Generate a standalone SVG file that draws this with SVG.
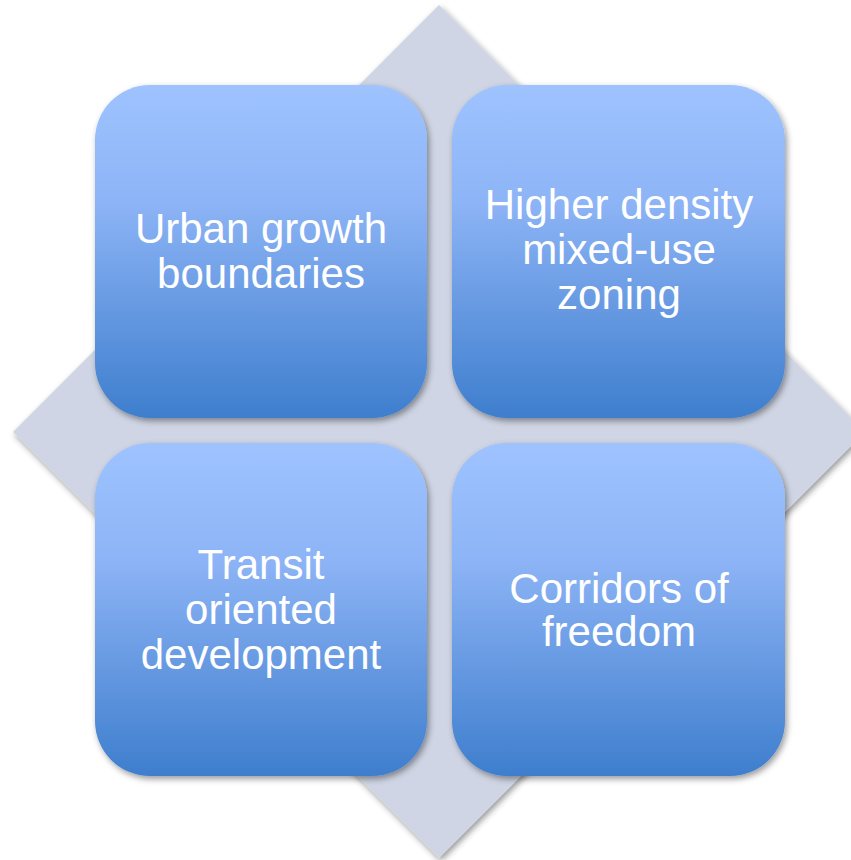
<svg xmlns="http://www.w3.org/2000/svg" width="851" height="860" viewBox="0 0 851 860">
  <defs>
    <linearGradient id="boxGrad" x1="0" y1="0" x2="0" y2="1">
      <stop offset="0" stop-color="#9EC3FF"/>
      <stop offset="0.35" stop-color="#8DB4F6"/>
      <stop offset="1" stop-color="#3E7ECD"/>
    </linearGradient>
    <filter id="shadow" x="-10%" y="-10%" width="130%" height="130%">
      <feDropShadow dx="2" dy="3" stdDeviation="3" flood-color="#000" flood-opacity="0.4"/>
    </filter>
    <style>
      .box { fill: url(#boxGrad); filter: url(#shadow); }
      .lbl { fill: #FFFFFF; font-family: "Liberation Sans", Arial, sans-serif; font-size: 42px; text-anchor: middle; }
    </style>
  </defs>
  <rect width="851" height="860" fill="#FFFFFF"/>
  <g id="diamond">
    <polygon points="439,5 865,432 439,858 13,432" fill="#CFD5E4" filter="url(#shadow)"/>
  </g>
  <g id="connectors"/>
  <g id="node-urban">
    <rect class="box" x="95" y="85" width="332" height="333" rx="55" ry="55"/>
    <text class="lbl" x="261" y="243">Urban growth</text>
    <text class="lbl" x="261" y="288">boundaries</text>
  </g>
  <g id="node-density">
    <rect class="box" x="452" y="85" width="333" height="333" rx="55" ry="55"/>
    <text class="lbl" x="619" y="219">Higher density</text>
    <text class="lbl" x="619" y="264">mixed-use</text>
    <text class="lbl" x="619" y="309">zoning</text>
  </g>
  <g id="node-transit">
    <rect class="box" x="95" y="443" width="332" height="333" rx="55" ry="55"/>
    <text class="lbl" x="261" y="579">Transit</text>
    <text class="lbl" x="261" y="624">oriented</text>
    <text class="lbl" x="261" y="669">development</text>
  </g>
  <g id="node-corridors">
    <rect class="box" x="452" y="443" width="333" height="333" rx="55" ry="55"/>
    <text class="lbl" x="619" y="603">Corridors of</text>
    <text class="lbl" x="619" y="646">freedom</text>
  </g>
</svg>
